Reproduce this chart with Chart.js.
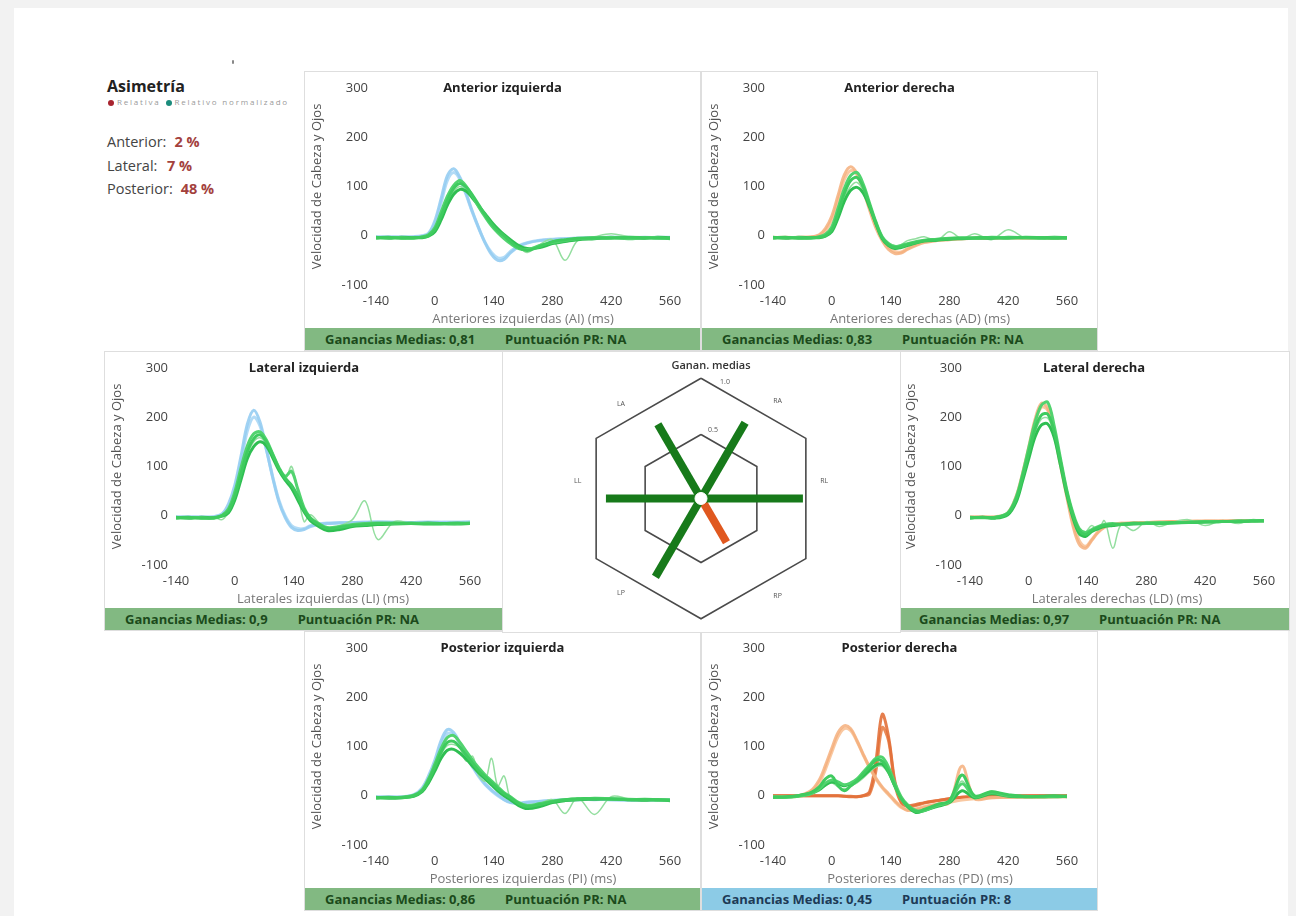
<!DOCTYPE html>
<html>
<head>
<meta charset="utf-8">
<script src="https://cdn.jsdelivr.net/npm/chart.js@4.4.0/dist/chart.umd.min.js"></script>
<style>
  body { margin: 0; width: 1296px; height: 916px; overflow: hidden; background: #f2f2f2; font-family: 'Open Sans', sans-serif; }
  #page { position: absolute; left: 14px; top: 8px; width: 1274px; height: 908px; background: #fff; }
  .panel { position: absolute; background: #fff; box-shadow: 0 0 0 1px #dedede; }
  .panel canvas { position: absolute; left: 0; top: 0; }
  .ttl { position: absolute; top: 6px; left: 0; right: 0; text-align: center; font-weight: 700; font-size: 13px; line-height: 18px; color: #222; }
  .bar { position: absolute; left: 0; right: 0; bottom: 0; height: 22px; line-height: 22px; padding-left: 20px; font-weight: 700; font-size: 13px; white-space: nowrap; }
  .bar .pr { margin-left: 30px; }
  #asym { position: absolute; left: 107px; top: 76px; color: #444; }
  #asym h1 { margin: 0; font-size: 16px; line-height: 20px; font-weight: 700; color: #222; }
  #asym .leg { font-size: 8px; line-height: 9px; letter-spacing: 1.8px; color: #9a9a9a; margin-top: 1px; white-space: nowrap; }
  #asym .dot { display: inline-block; width: 6px; height: 6px; border-radius: 3px; vertical-align: -1px; margin: 0 3px 0 1px; }
  #asym .rows { margin-top: 24px; font-size: 14.5px; }
  #asym .row { height: 23.5px; line-height: 23.5px; white-space: nowrap; }
  #asym .lab { display: inline-block; min-width: 52px; }
  #asym .val { margin-left: 8px; font-weight: 700; color: #a3413d; }
  #mark { position: absolute; left: 232px; top: 60px; width: 2px; height: 4px; background: #888; border-radius: 1px; }
  #hexTitle { position: absolute; top: 5px; left: 0; width: 416px; text-align: center; font-size: 11px; font-weight: 600; color: #333; }
</style>
</head>
<body>
<div id="page"></div>
<div id="mark"></div>
<div id="asym">
  <h1>Asimetría</h1>
  <div class="leg"><span class="dot" style="background:#a8242f"></span>Relativa&nbsp;<span class="dot" style="background:#1b8c7c"></span>Relativo normalizado</div>
  <div class="rows" id="asymRows"></div>
</div>
<div id="panels"></div>

<script>
// ---- data ----
const TIME_MS = [-140, -110, -80, -50, -30, -15, 0, 15, 30, 45, 60, 75, 90, 105, 120, 135, 150, 165, 180, 200, 220, 250, 280, 310, 340, 380, 420, 460, 500, 530, 560];
const X_TICKS = [-140, 0, 140, 280, 420, 560];
const Y_TICKS = [-100, 0, 100, 200, 300];

const TITLES = ['Anterior izquierda', 'Anterior derecha', 'Lateral izquierda', 'Lateral derecha', 'Posterior izquierda', 'Posterior derecha'];
const X_TITLES = ['Anteriores izquierdas (AI) (ms)', 'Anteriores derechas (AD) (ms)', 'Laterales izquierdas (LI) (ms)', 'Laterales derechas (LD) (ms)', 'Posteriores izquierdas (PI) (ms)', 'Posteriores derechas (PD) (ms)'];
const MEAN_GAINS = [0.81, 0.83, 0.9, 0.97, 0.86, 0.45];
const PR_SCORES = ['NA', 'NA', 'NA', 'NA', 'NA', '8'];

const ASYM_LABELS = ['Anterior:', 'Lateral:', 'Posterior:'];
const ASYM_VALUES = [2, 7, 48];

// head velocity traces
const aiHead = [
  [-3, -2, -3, -2, 0, 5, 30, 75, 122, 136, 118, 85, 48, 15, -15, -38, -50, -48, -35, -22, -15, -10, -8, -6, -5, -4, -3, -4, -3, -4, -4],
  [-2, -3, -2, -3, -1, 3, 24, 66, 112, 128, 114, 82, 46, 14, -14, -34, -45, -44, -32, -20, -14, -9, -7, -6, -5, -4, -3, -3, -4, -3, -3],
];
const adHead = [
  [-4, -3, -4, -3, 2, 15, 40, 82, 124, 140, 126, 92, 52, 16, -10, -28, -36, -35, -28, -20, -14, -10, -8, -6, -5, -5, -4, -4, -4, -5, -4],
  [-3, -4, -3, -2, 0, 10, 32, 72, 114, 132, 124, 94, 56, 20, -6, -24, -32, -33, -26, -18, -12, -9, -7, -6, -5, -4, -4, -5, -4, -4, -4],
];
const liHead = [
  [-3, -2, -3, -2, 4, 24, 62, 122, 186, 214, 190, 136, 78, 28, -4, -24, -30, -28, -22, -18, -16, -15, -14, -14, -13, -14, -14, -13, -14, -14, -13],
  [-2, -3, -2, -3, 2, 18, 54, 110, 172, 200, 182, 134, 80, 32, 0, -20, -26, -26, -20, -16, -15, -14, -14, -13, -13, -13, -14, -14, -13, -13, -13],
];
const ldHead = [
  [-3, -2, -3, 6, 40, 86, 140, 196, 228, 218, 168, 104, 40, -20, -58, -66, -50, -34, -24, -18, -16, -15, -14, -13, -12, -12, -11, -11, -10, -10, -10],
  [-2, -3, -2, 4, 34, 78, 132, 188, 220, 214, 170, 110, 46, -12, -50, -62, -48, -32, -22, -18, -15, -14, -14, -13, -12, -11, -11, -10, -11, -10, -10],
];
const piHead = [
  [-3, -2, -3, 2, 16, 40, 72, 112, 134, 128, 106, 82, 60, 40, 24, 12, 2, -8, -14, -16, -14, -12, -10, -9, -8, -8, -8, -9, -8, -9, -9],
  [-2, -3, -2, 1, 12, 34, 64, 104, 126, 124, 104, 80, 58, 38, 22, 10, 0, -8, -13, -15, -13, -11, -9, -8, -8, -7, -8, -8, -9, -8, -8],
];
const pdHead = [
  [-2, -2, 0, 10, 32, 62, 96, 128, 142, 136, 112, 84, 58, 36, 18, 4, -10, -22, -30, -28, -24, -18, -14, 60, -6, -4, -3, -3, -2, -2, -2],
  [-3, -2, -1, 8, 26, 54, 88, 120, 136, 132, 110, 82, 56, 34, 16, 2, -12, -24, -28, -27, -22, -17, -13, -9, -6, -4, -3, -2, -3, -2, -2],
  [0, 0, 0, 0, 0, 0, 0, 0, -1, -2, -2, 0, 8, 70, 165, 120, 30, -12, -20, -18, -14, -10, -6, -3, -2, -1, 0, 0, 0, 0, 0],
  [0, 0, 0, 0, 0, 0, 0, 0, -1, -1, -2, 0, 4, 50, 138, 112, 24, -14, -22, -20, -15, -10, -6, -3, -2, -1, 0, 0, 0, 0, 0],
];

// eye velocity traces
const aiEye = [
  [-4, -3, -5, -4, -3, 0, 12, 40, 72, 96, 106, 98, 82, 62, 42, 24, 10, 0, -12, -24, -30, -22, -12, -8, -5, -4, -5, -3, -4, -5, -5],
  [-5, -4, -4, -5, -2, 2, 16, 48, 80, 102, 112, 100, 80, 58, 38, 20, 6, -6, -16, -26, -28, -20, -14, -10, -6, -5, -3, -6, -4, -4, -6],
  [-3, -5, -3, -4, -4, -1, 8, 32, 62, 84, 94, 90, 76, 60, 44, 28, 14, 2, -8, -20, -26, -24, -16, -12, -8, -6, -4, -5, -5, -3, -4],
  [-4, -4, -6, -3, -3, 1, 10, 36, 68, 90, 100, 92, 78, 56, 40, 22, 8, -4, -14, -22, -34, -18, -8, -50, -10, -2, 4, -2, -6, -2, -5],
];
const adEye = [
  [-4, -3, -5, -4, -3, 0, 12, 46, 86, 112, 118, 98, 62, 26, -4, -18, -24, -22, -18, -14, -10, -8, -6, -5, -4, -4, -5, -3, -4, -5, -4],
  [-5, -4, -4, -5, -2, 3, 18, 56, 96, 122, 128, 104, 66, 28, -2, -16, -22, -20, -16, -12, -9, -7, -5, -4, -5, -3, -4, -4, -5, -4, -5],
  [-3, -5, -3, -4, -4, -1, 8, 36, 70, 92, 98, 86, 58, 24, -6, -20, -26, -24, -20, -15, -11, -9, -7, -6, -5, -5, -3, -4, -4, -3, -4],
  [-4, -4, -6, -3, -3, 1, 10, 40, 78, 100, 108, 92, 60, 22, -3, -14, -20, -18, -10, -6, -2, -10, 8, -6, 4, -8, 12, -4, -2, -6, -3],
];
const liEye = [
  [-4, -3, -5, -4, 0, 10, 40, 86, 130, 156, 164, 150, 124, 96, 76, 62, 40, 12, -6, -18, -26, -24, -20, -18, -16, -15, -16, -17, -16, -15, -16],
  [-5, -4, -4, -5, 1, 14, 48, 98, 142, 166, 170, 154, 126, 98, 80, 90, 54, 16, -4, -16, -24, -22, -18, -16, -15, -16, -15, -16, -17, -16, -15],
  [-3, -5, -3, -4, -1, 6, 32, 74, 116, 140, 150, 142, 118, 92, 72, 56, 32, 8, -10, -22, -30, -28, -22, -20, -18, -17, -16, -15, -16, -17, -16],
  [-4, -4, -6, -3, -8, 8, 36, 80, 124, 150, 158, 146, 120, 94, 74, 100, 48, -12, 2, -14, -28, -20, -8, 30, -48, -12, -16, -18, -15, -16, -14],
];
const ldEye = [
  [-4, -3, -4, 4, 34, 78, 128, 176, 204, 206, 172, 112, 50, 2, -30, -38, -30, -24, -20, -18, -17, -16, -15, -16, -15, -14, -13, -12, -12, -11, -10],
  [-3, -4, -3, 6, 38, 84, 138, 190, 224, 230, 184, 118, 54, 6, -26, -34, -28, -22, -18, -16, -18, -15, -16, -14, -15, -13, -12, -12, -11, -10, -11],
  [-5, -3, -5, 2, 28, 70, 116, 160, 184, 186, 160, 104, 44, -4, -36, -42, -32, -26, -22, -20, -18, -17, -16, -15, -14, -14, -13, -12, -11, -11, -10],
  [-4, -4, -5, 3, 32, 76, 124, 170, 196, 198, 168, 110, 48, 0, -40, -34, -20, -30, -10, -66, -18, -30, -12, -22, -14, -8, -20, -10, -16, -8, -10],
];
const piEye = [
  [-4, -3, -4, 0, 10, 30, 58, 88, 108, 110, 98, 82, 66, 50, 38, 26, 14, 4, -4, -16, -22, -18, -12, -8, -6, -6, -7, -8, -7, -8, -9],
  [-5, -4, -3, 1, 12, 34, 64, 96, 118, 122, 108, 90, 72, 56, 42, 30, 18, 6, -2, -14, -20, -16, -11, -8, -7, -5, -6, -7, -8, -9, -8],
  [-3, -5, -4, -1, 8, 26, 50, 76, 92, 94, 86, 74, 60, 46, 34, 22, 10, 0, -8, -20, -26, -22, -14, -10, -8, -7, -6, -8, -9, -8, -10],
  [-4, -4, -5, 0, 10, 28, 56, 84, 102, 104, 96, 70, 80, 40, 30, 76, 20, 40, -6, -18, -24, -16, -8, -36, -4, -38, -2, -6, -10, -6, -9],
];
const pdEye = [
  [-3, -2, 0, 6, 18, 34, 40, 20, 10, 20, 30, 44, 58, 72, 70, 50, 20, -6, -20, -32, -28, -18, -10, 42, 0, 8, 2, -2, -1, 0, -2],
  [-2, -3, -1, 4, 14, 26, 32, 28, 22, 26, 34, 48, 62, 76, 78, 58, 26, -2, -18, -30, -30, -20, -12, 24, -2, 6, 0, -1, -2, -1, -1],
  [-3, -3, 0, 5, 12, 22, 28, 24, 20, 24, 30, 40, 52, 62, 64, 48, 20, -4, -22, -34, -30, -22, -14, 10, -4, 4, -1, -2, -2, -2, -1],
  [-2, -2, -1, 3, 10, 20, 26, 18, 14, 20, 26, 36, 48, 58, 60, 44, 16, -8, -24, -34, -32, -22, -12, 30, -6, 10, 0, 0, -1, 0, -2],
];

// center diagram
const SPOKES = ['RL', 'RA', 'LA', 'LL', 'LP', 'RP'];
const SPOKE_ANGLES = [0, 60, 120, 180, 240, 300];
const SPOKE_SOURCE = [3, 1, 0, 2, 4, 5]; // index into MEAN_GAINS
const RINGS = [0.5, 1.0];
const RING_LABELS = ['0.5', '1.0'];

// ---- styles ----
const FONT = 'Open Sans';
const EYE_COLORS = ['#3fcb5f', '#52d36f', '#2fbf52', '#93de9f'];
const EYE_WIDTHS = [3, 3, 3, 1.5];
const BLUE = ['rgba(150,205,242,0.9)', 'rgba(170,215,245,0.9)'];
const ORANGE = ['rgba(245,175,125,0.85)', 'rgba(248,190,145,0.85)', 'rgba(226,112,58,0.9)', 'rgba(232,128,72,0.9)'];
const PANELS = [
  { left: 305, top: 72, width: 395, eye: aiEye, head: aiHead, headColors: BLUE, bar: '#82b982', ink: '#1b4a1b' },
  { left: 702, top: 72, width: 395, eye: adEye, head: adHead, headColors: ORANGE, bar: '#82b982', ink: '#1b4a1b' },
  { left: 105, top: 352, width: 398, eye: liEye, head: liHead, headColors: BLUE, bar: '#82b982', ink: '#1b4a1b' },
  { left: 899, top: 352, width: 390, eye: ldEye, head: ldHead, headColors: ORANGE, bar: '#82b982', ink: '#1b4a1b' },
  { left: 305, top: 632, width: 395, eye: piEye, head: piHead, headColors: BLUE, bar: '#82b982', ink: '#1b4a1b' },
  { left: 702, top: 632, width: 395, eye: pdEye, head: pdHead, headColors: ORANGE, bar: '#8ccbe6', ink: '#1d3a56' },
];

const series = (values) => TIME_MS.map((t, i) => ({ x: t, y: values[i] }));
const fmtGain = (g) => g.toLocaleString('es-ES');

// asymmetry rows
const rows = document.getElementById('asymRows');
ASYM_LABELS.forEach((label, i) => {
  const row = document.createElement('div');
  row.className = 'row';
  row.innerHTML = `<span class="lab">${label}</span><span class="val">${ASYM_VALUES[i]} %</span>`;
  rows.appendChild(row);
});

// trace panels
const host = document.getElementById('panels');
PANELS.forEach((p, k) => {
  const div = document.createElement('div');
  div.className = 'panel';
  div.style.cssText = `left:${p.left}px;top:${p.top}px;width:${p.width}px;height:278px;`;
  div.innerHTML =
    `<canvas width="${p.width}" height="256"></canvas>` +
    `<div class="ttl">${TITLES[k]}</div>` +
    `<div class="bar" style="background:${p.bar};color:${p.ink}"><span>Ganancias Medias: ${fmtGain(MEAN_GAINS[k])}</span><span class="pr">Puntuación PR: ${PR_SCORES[k]}</span></div>`;
  host.appendChild(div);

  const datasets = [];
  p.eye.forEach((v, i) => datasets.push({ data: series(v), borderColor: EYE_COLORS[i], borderWidth: EYE_WIDTHS[i] }));
  p.head.forEach((v, i) => datasets.push({ data: series(v), borderColor: p.headColors[i], borderWidth: 3 }));

  new Chart(div.querySelector('canvas'), {
    type: 'line',
    data: { datasets },
    options: {
      responsive: false,
      animation: false,
      layout: { padding: { top: 13, right: p.width - 71 - 294, left: 0, bottom: 0 } },
      plugins: { legend: { display: false }, tooltip: { enabled: false } },
      elements: { point: { radius: 0 }, line: { tension: 0.35, borderJoinStyle: 'round', fill: false } },
      scales: {
        x: {
          type: 'linear',
          min: X_TICKS[0],
          max: X_TICKS[X_TICKS.length - 1],
          afterBuildTicks: (s) => { s.ticks = X_TICKS.map((v) => ({ value: v })); },
          afterFit: (s) => { s.height = 43; },
          grid: { display: false, drawTicks: false },
          border: { display: false },
          ticks: { color: '#444', font: { family: FONT, size: 13 }, padding: 8, maxRotation: 0 },
          title: { display: true, text: X_TITLES[k], color: '#777', font: { family: FONT, size: 13 }, padding: { top: 0, bottom: 1 } },
        },
        y: {
          min: Y_TICKS[0],
          max: Y_TICKS[Y_TICKS.length - 1],
          afterBuildTicks: (s) => { s.ticks = Y_TICKS.map((v) => ({ value: v })); },
          afterFit: (s) => { s.width = 71; },
          grid: { display: false, drawTicks: false },
          border: { display: false },
          ticks: { color: '#444', font: { family: FONT, size: 13 }, padding: 8 },
          title: { display: true, text: 'Velocidad de Cabeza y Ojos', color: '#555', font: { family: FONT, size: 13 }, padding: { top: 4, bottom: 0 } },
        },
      },
    },
  });
});

// center hexagon diagram
const HOLE = 0.07;
const cos30 = Math.cos(Math.PI / 6);
const rad = (d) => (d * Math.PI) / 180;
const hexDiv = document.createElement('div');
hexDiv.className = 'panel';
hexDiv.style.cssText = 'left:503px;top:352px;width:397px;height:280px;';
hexDiv.innerHTML = '<canvas width="397" height="280"></canvas><div id="hexTitle">Ganan. medias</div>';
host.appendChild(hexDiv);

const hexDatasets = [];
hexDatasets.push({ data: [{ x: 0, y: 0 }], showLine: false, pointRadius: 6, pointBackgroundColor: '#fff', pointBorderColor: '#fff' });
SPOKES.forEach((name, i) => {
  const g = MEAN_GAINS[SPOKE_SOURCE[i]];
  const a = rad(SPOKE_ANGLES[i]);
  const r = HOLE + g;
  hexDatasets.push({
    data: [{ x: 0, y: 0 }, { x: r * Math.cos(a), y: r * Math.sin(a) }],
    showLine: true, pointRadius: 0, borderWidth: 8, borderCapStyle: 'butt',
    borderColor: PR_SCORES[SPOKE_SOURCE[i]] === 'NA' ? '#177a1a' : '#e0581f',
  });
});
RINGS.forEach((ring) => {
  const R = (HOLE + ring) / cos30;
  const pts = [];
  for (let d = 90; d <= 450; d += 60) pts.push({ x: R * Math.cos(rad(d)), y: R * Math.sin(rad(d)) });
  hexDatasets.push({ data: pts, showLine: true, pointRadius: 0, borderWidth: 1.6, borderColor: '#4a4a4a' });
});

const LABEL_ANGLES = [8, 52, 130, 172, 230, 308];
const hexLabels = {
  id: 'hexLabels',
  afterDatasetsDraw(chart) {
    const { ctx, scales: { x, y } } = chart;
    ctx.save();
    ctx.font = `7px ${FONT}`;
    ctx.fillStyle = '#555';
    ctx.textAlign = 'center';
    ctx.textBaseline = 'middle';
    SPOKES.forEach((name, i) => {
      const a = rad(LABEL_ANGLES[i]);
      ctx.fillText(name, x.getPixelForValue(1.27 * Math.cos(a)), y.getPixelForValue(1.27 * Math.sin(a)));
    });
    RINGS.forEach((ring, i) => {
      const R = (HOLE + ring) / cos30;
      ctx.fillText(RING_LABELS[i], x.getPixelForValue(0) + 12 + 12 * i, y.getPixelForValue(R) - 4 + 8 * i);
    });
    ctx.restore();
  },
};

new Chart(hexDiv.querySelector('canvas'), {
  type: 'scatter',
  data: { datasets: hexDatasets },
  options: {
    responsive: false,
    animation: false,
    layout: { padding: { left: 51, right: 52, top: 20, bottom: 6 } },
    plugins: { legend: { display: false }, tooltip: { enabled: false } },
    scales: {
      x: { type: 'linear', min: -1.5, max: 1.5, display: false },
      y: { type: 'linear', min: -1.3, max: 1.3, display: false },
    },
  },
  plugins: [hexLabels],
});
</script>
</body>
</html>
